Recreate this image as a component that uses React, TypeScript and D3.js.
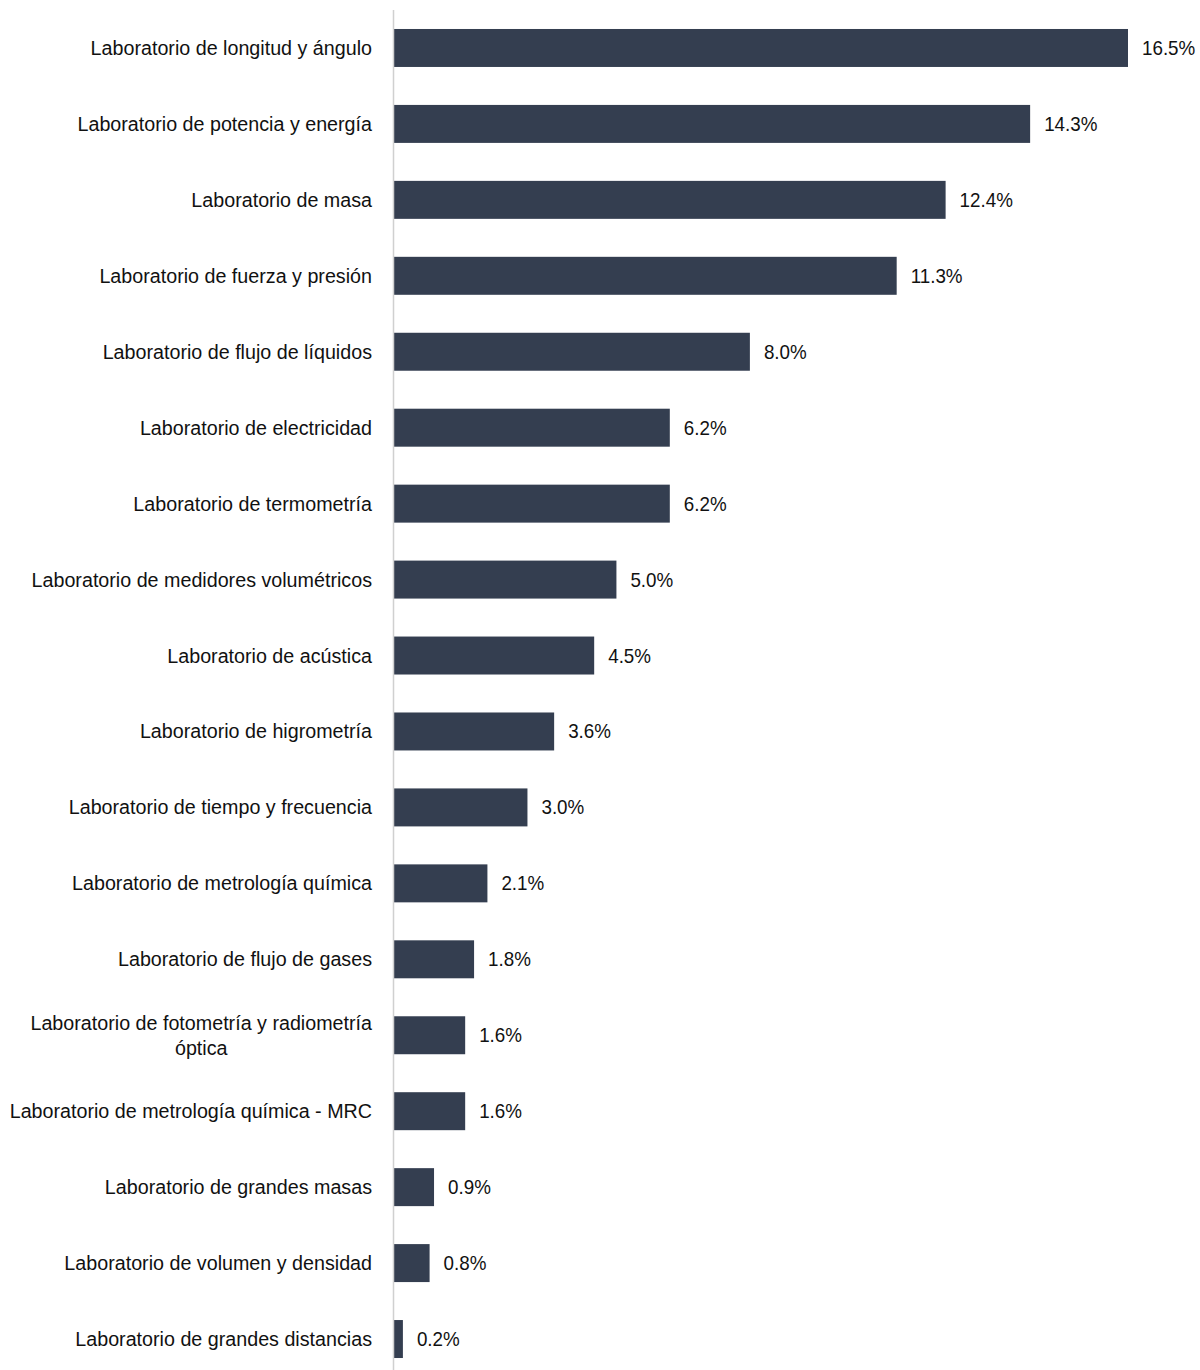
import React, { useEffect, useRef } from "react";
import * as d3 from "d3";

const categories: string[] = [
  "Laboratorio de longitud y ángulo",
  "Laboratorio de potencia y energía",
  "Laboratorio de masa",
  "Laboratorio de fuerza y presión",
  "Laboratorio de flujo de líquidos",
  "Laboratorio de electricidad",
  "Laboratorio de termometría",
  "Laboratorio de medidores volumétricos",
  "Laboratorio de acústica",
  "Laboratorio de higrometría",
  "Laboratorio de tiempo y frecuencia",
  "Laboratorio de metrología química",
  "Laboratorio de flujo de gases",
  "Laboratorio de fotometría y radiometría|óptica",
  "Laboratorio de metrología química - MRC",
  "Laboratorio de grandes masas",
  "Laboratorio de volumen y densidad",
  "Laboratorio de grandes distancias",
];

const values: number[] = [16.5, 14.3, 12.4, 11.3, 8.0, 6.2, 6.2, 5.0, 4.5, 3.6, 3.0, 2.1, 1.8, 1.6, 1.6, 0.9, 0.8, 0.2];

const W = 1200;
const H = 1370;
const FONT = "'Liberation Sans', Arial, sans-serif";
const SX_LABEL = 0.985;
const SX_VALUE = 0.94;
const FS = 20;

export default function App() {
  const ref = useRef<SVGSVGElement | null>(null);

  useEffect(() => {
    const svg = d3.select(ref.current);
    svg.selectAll("*").remove();

    const x0 = 394;
    const x = d3.scaleLinear().domain([0, 16.5]).range([x0, x0 + 734]);
    const y = d3
      .scaleBand<string>()
      .domain(categories)
      .range([10, 1377])
      .paddingInner(0.5)
      .paddingOuter(0.25);

    const g = svg.append("g");

    g.selectAll("rect.bar")
      .data(categories)
      .enter()
      .append("rect")
      .attr("class", "bar")
      .attr("x", x(0))
      .attr("y", (d) => y(d)!)
      .attr("width", (d, i) => x(values[i]) - x(0))
      .attr("height", y.bandwidth())
      .attr("fill", "#343e50");

    g.append("line")
      .attr("x1", x(0) - 0.5)
      .attr("x2", x(0) - 0.5)
      .attr("y1", 10)
      .attr("y2", H)
      .attr("stroke", "#d0d0d0")
      .attr("stroke-width", 1.5);

    const addText = (px: number, py: number, anchor: string, s: string, sx: number) =>
      g
        .append("text")
        .attr("transform", `translate(${px},${py}) scale(${sx},1)`)
        .attr("dy", "0.35em")
        .attr("text-anchor", anchor)
        .attr("font-family", FONT)
        .attr("font-size", FS)
        .attr("fill", "#111")
        .text(s);

    categories.forEach((c, i) => {
      const cy = y(c)! + y.bandwidth() / 2;
      addText(x(values[i]) + 14, cy, "start", values[i].toFixed(1) + "%", SX_VALUE);
    });

    const labelRight = 372;
    categories.forEach((c) => {
      const lines = c.split("|");
      const cy = y(c)! + y.bandwidth() / 2;
      if (lines.length === 1) {
        addText(labelRight, cy, "end", lines[0], SX_LABEL);
      } else {
        const t1 = addText(labelRight, cy - 12, "end", lines[0], SX_LABEL);
        const w = (t1.node() as SVGTextElement).getComputedTextLength() * SX_LABEL;
        addText(labelRight - w / 2, cy + 13, "middle", lines[1], SX_LABEL);
      }
    });
  }, []);

  return (
    <svg
      ref={ref}
      width={W}
      height={H}
      style={{ display: "block", position: "absolute", left: 0, top: 0 }}
    />
  );
}
